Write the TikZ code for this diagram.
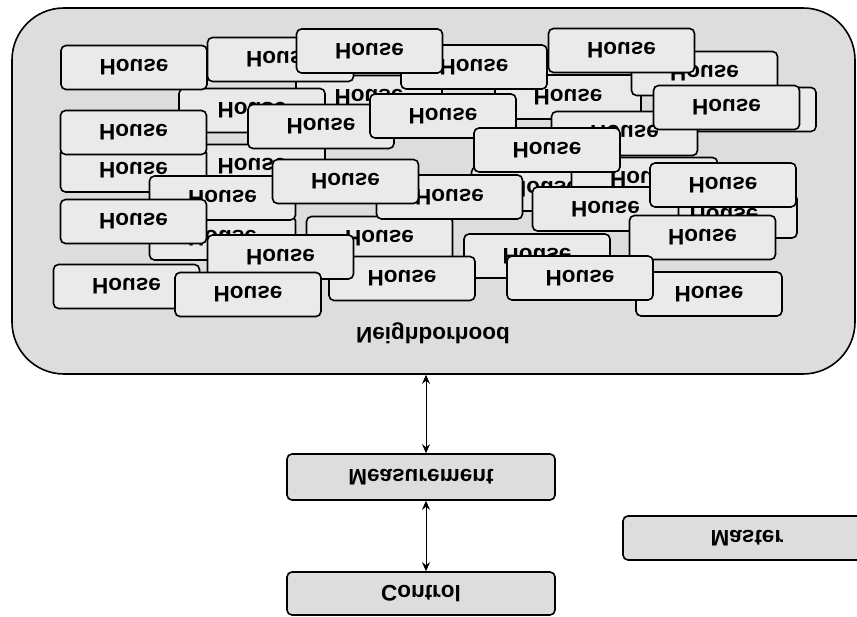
\documentclass[tikz,border=0pt]{standalone}
\usepackage{fontspec}
\setmainfont{Liberation Sans}
\usetikzlibrary{arrows.meta}

\definecolor{areagray}{RGB}{221,221,221}
\definecolor{housegray}{RGB}{234,234,234}

% text is printed upside down in the picture
\newcommand{\mirrortext}[1]{\scalebox{1}[-1]{#1}}

\tikzset{
  labelfont/.style={font=\bfseries\fontsize{22.5}{22.5}\selectfont},
  house/.style={draw, line width=1.6pt, rounded corners=5pt, fill=housegray,
    minimum width=146pt, minimum height=44pt, inner sep=0pt, labelfont},
  unitbox/.style={house, fill=areagray, minimum width=268pt, minimum height=46pt},
  link/.style={<->, line width=1pt, >={Stealth[length=9pt,width=8pt,inset=3pt]}}
}

\begin{document}
\begin{tikzpicture}[x=1pt, y=-1pt]
  \clip (0,0) rectangle (857,617);

  \node [draw, line width=1.6pt, rounded corners=52pt, fill=areagray,
         minimum width=843pt, minimum height=366pt] (nbh) at (433.5,191) {};
  \node [labelfont] (nbhlabel) at (433,333) {\mirrortext{Neighborhood}};

  % houses, back to front
  \node [house] (h32) at (222.5,238)   {\mirrortext{House}};
  \node [house] (h28) at (252,166.5)   {\mirrortext{House}};
  \node [house] (h15b) at (544.5,189)  {\mirrortext{House}};
  \node [house] (h15) at (644.5,179.5) {\mirrortext{House}};
  \node [house] (h18) at (724,216)     {\mirrortext{House}};
  \node [house] (h10) at (369,97.5)    {\mirrortext{House}};
  \node [house] (h12) at (568,97)      {\mirrortext{House}};
  \node [house] (h6)  at (704.5,73.5)  {\mirrortext{House}};
  \node [house] (h7b) at (743,109.5)   {\mirrortext{House}};
  \node [house] (h9)  at (252,110.5)   {\mirrortext{House}};
  \node [house] (h2)  at (280.5,59.5)  {\mirrortext{House}};
  \node [house] (h4)  at (474,67)      {\mirrortext{House}};
  \node [house] (h20) at (709,294)     {\mirrortext{House}};
  \node [house] (h22) at (537,256)     {\mirrortext{House}};
  \node [house] (h24) at (379.5,238.5) {\mirrortext{House}};
  \node [house] (h29) at (133.5,170)   {\mirrortext{House}};
  \node [house] (h27) at (222.5,198)   {\mirrortext{House}};
  \node [house] (h13) at (624.5,133.5) {\mirrortext{House}};
  \node [house] (h1)  at (134,67.5)    {\mirrortext{House}};
  \node [house] (h3)  at (369.5,51)    {\mirrortext{House}};
  \node [house] (h5)  at (621.5,50.5)  {\mirrortext{House}};
  \node [house] (h7)  at (726.5,107.5) {\mirrortext{House}};
  \node [house] (h8)  at (321,126.5)   {\mirrortext{House}};
  \node [house] (h11) at (443,116)     {\mirrortext{House}};
  \node [house] (h14) at (547,150)     {\mirrortext{House}};
  \node [house] (h16) at (605.5,209)   {\mirrortext{House}};
  \node [house] (h17) at (723,185)     {\mirrortext{House}};
  \node [house] (h19) at (702.5,237.5) {\mirrortext{House}};
  \node [house] (h21) at (580,278)     {\mirrortext{House}};
  \node [house] (h23) at (402,278.5)   {\mirrortext{House}};
  \node [house] (h25) at (449.5,197)   {\mirrortext{House}};
  \node [house] (h26) at (345.5,181.5) {\mirrortext{House}};
  \node [house] (h30) at (133.5,132.5) {\mirrortext{House}};
  \node [house] (h31) at (133.5,221.5) {\mirrortext{House}};
  \node [house] (h33) at (280.5,257)   {\mirrortext{House}};
  \node [house] (h34) at (126.5,286.5) {\mirrortext{House}};
  \node [house] (h35) at (248,294.5)   {\mirrortext{House}};

  \node [unitbox] (meas) at (421,477) {\mirrortext{Measurement}};
  \node [unitbox, minimum height=43pt] (ctrl) at (421,593.5) {\mirrortext{Control}};
  \node [unitbox, minimum width=248pt, minimum height=44pt] (mstr) at (747,538) {\mirrortext{Master}};

  \draw [link] ([xshift=5pt]meas.north) -- ([xshift=5pt]meas.north |- nbh.south);
  \draw [link] ([xshift=5pt]meas.south) -- ([xshift=5pt]ctrl.north);
\end{tikzpicture}
\end{document}
